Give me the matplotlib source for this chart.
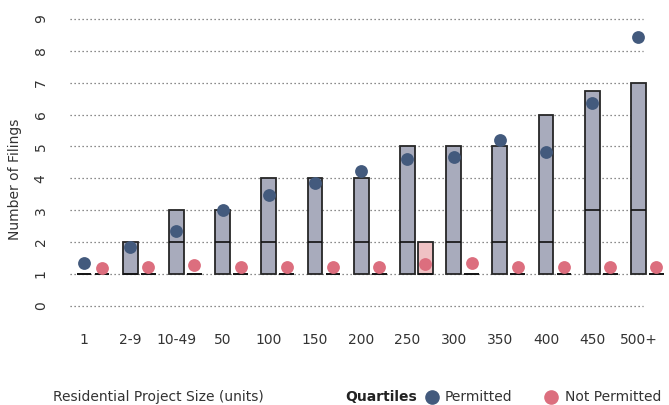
import matplotlib
matplotlib.use("Agg")
import matplotlib.pyplot as plt
import numpy as np

plt.rcParams['font.family'] = ['DejaVu Sans']

sizes = ["1", "2-9", "10-49", "50", "100", "150", "200", "250", "300", "350", "400", "450", "500+"]

# permitted quartiles and means
perm_q1 = [1, 1, 1, 1, 1, 1, 1, 1, 1, 1, 1, 1, 1]
perm_med = [1, 1, 2, 2, 2, 2, 2, 2, 2, 2, 2, 3, 3]
perm_q3 = [1, 2, 3, 3, 4, 4, 4, 5, 5, 5, 6, 6.75, 7]
perm_mean = [1.34, 1.83, 2.35, 3.0, 3.48, 3.84, 4.24, 4.62, 4.68, 5.19, 4.84, 6.37, 8.42]

# not permitted quartiles and means
notp_q1 = [1, 1, 1, 1, 1, 1, 1, 1, 1, 1, 1, 1, 1]
notp_med = [1, 1, 1, 1, 1, 1, 1, 1, 1, 1, 1, 1, 1]
notp_q3 = [1, 1, 1, 1, 1, 1, 1, 2, 1, 1, 1, 1, 1]
notp_mean = [1.17, 1.23, 1.27, 1.23, 1.21, 1.23, 1.23, 1.32, 1.35, 1.21, 1.22, 1.23, 1.21]

perm_dot = "#435a7d"
notp_dot = "#dc6e7e"
perm_box = "#a8abbc"
notp_box = "#efc2c4"
text_col = "#333333"

fig = plt.figure(figsize=(6.69, 4.05), dpi=100)
ax = fig.add_axes([0.1046, 0.2215, 0.8894, 0.7474])

x = np.arange(len(sizes))
off = 0.195
w = 0.32
xp = x - off
xn = x + off

# grid lines
for v in range(0, 10):
    ax.plot([-0.5, 11.9], [v, v], color="#666666", lw=0.9, ls=(0, (1, 2.2)), zorder=0)

# boxes
ax.bar(xp, np.array(perm_q3) - np.array(perm_q1), bottom=perm_q1, width=w,
       color=perm_box, edgecolor="#262626", linewidth=1.3, zorder=2)
ax.bar(xn, np.array(notp_q3) - np.array(notp_q1), bottom=notp_q1, width=w,
       color=notp_box, edgecolor="#262626", linewidth=1.3, zorder=2)

# medians
ax.hlines(perm_med, xp - w / 2, xp + w / 2, color="#111111", lw=1.2, zorder=3)
ax.hlines(notp_med, xn - w / 2, xn + w / 2, color="#111111", lw=1.2, zorder=3)

# means
ax.scatter(xp, perm_mean, s=85, color=perm_dot, zorder=4, linewidths=0)
ax.scatter(xn, notp_mean, s=85, color=notp_dot, zorder=4, linewidths=0)

ax.set_xlim(-0.5, 12.38)
ax.set_ylim(-0.3, 9.2)
ax.set_yticks(range(0, 10))
ax.set_xticks(xp)
ax.set_xticklabels(sizes)
ax.tick_params(axis="both", length=0, labelsize=10, labelcolor=text_col)
ax.tick_params(axis="x", pad=13)
ax.tick_params(axis="y", pad=16)
for lab in ax.get_yticklabels():
    lab.set_rotation(90)
    lab.set_va("center")
for s in ax.spines.values():
    s.set_visible(False)

ax.set_ylabel("Number of Filings", fontsize=10, color=text_col)
ax.yaxis.set_label_coords(-0.08, 0.45)

fig.text(53 / 669, 1 - 397 / 405, "Residential Project Size (units)", fontsize=10,
         color=text_col, va="center", ha="left")
fig.text(345 / 669, 1 - 397 / 405, "Quartiles", fontsize=10, fontweight="bold",
         color="#222222", va="center", ha="left")
fig.add_artist(plt.Line2D([432 / 669], [1 - 397 / 405], marker="o", ms=9.5, color=perm_dot,
                          transform=fig.transFigure, lw=0))
fig.text(445 / 669, 1 - 397 / 405, "Permitted", fontsize=10, color=text_col, va="center", ha="left")
fig.add_artist(plt.Line2D([551 / 669], [1 - 397 / 405], marker="o", ms=9.5, color=notp_dot,
                          transform=fig.transFigure, lw=0))
fig.text(565 / 669, 1 - 397 / 405, "Not Permitted", fontsize=10, color=text_col, va="center", ha="left")

fig.savefig("out.png", dpi=100)
